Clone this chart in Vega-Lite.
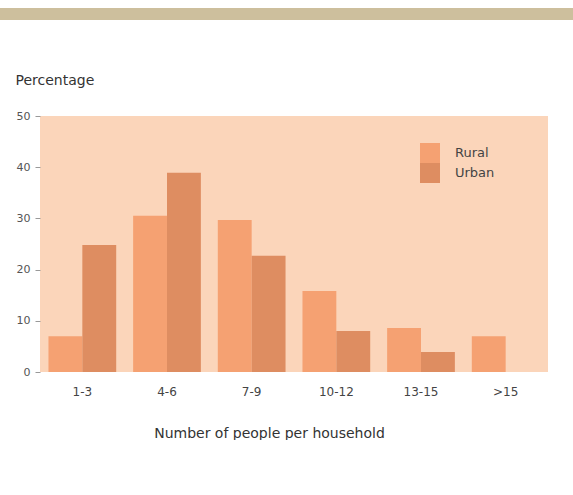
{
  "$schema": "https://vega.github.io/schema/vega-lite/v6.json",
  "padding": {"left": 0, "top": 8, "right": -15, "bottom": 0},
  "background": "white",
  "spacing": 53,
  "center": true,
  "config": {
    "font": "DejaVu Sans",
    "view": {"stroke": null}
  },
  "vconcat": [
    {
      "width": 588,
      "height": 12,
      "view": {"fill": "#cdbf9d", "stroke": null},
      "data": {"values": [{"band": 1}]},
      "mark": {"type": "rect", "color": "#cdbf9d"},
      "encoding": {}
    },
    {
      "width": 508,
      "height": 256,
      "view": {"fill": "#fbd5ba", "stroke": null},
      "data": {
        "values": [
          {"size": "1-3", "area": "Rural", "pct": 7},
          {"size": "1-3", "area": "Urban", "pct": 24.8},
          {"size": "4-6", "area": "Rural", "pct": 30.5},
          {"size": "4-6", "area": "Urban", "pct": 38.9},
          {"size": "7-9", "area": "Rural", "pct": 29.7},
          {"size": "7-9", "area": "Urban", "pct": 22.7},
          {"size": "10-12", "area": "Rural", "pct": 15.8},
          {"size": "10-12", "area": "Urban", "pct": 8},
          {"size": "13-15", "area": "Rural", "pct": 8.6},
          {"size": "13-15", "area": "Urban", "pct": 3.9},
          {"size": ">15", "area": "Rural", "pct": 7},
          {"size": ">15", "area": "Urban", "pct": 0}
        ]
      },
      "mark": {"type": "bar"},
      "encoding": {
        "x": {
          "field": "size",
          "type": "nominal",
          "sort": ["1-3", "4-6", "7-9", "10-12", "13-15", ">15"],
          "scale": {"paddingInner": 0.2, "paddingOuter": 0.1},
          "axis": {
            "title": "Number of people per household",
            "labelAngle": 0,
            "domain": false,
            "ticks": false,
            "labelPadding": 14,
            "labelFontSize": 12,
            "labelColor": "#444",
            "titleFontSize": 14,
            "titleFontWeight": "normal",
            "titleColor": "#333",
            "titleX": 229,
            "titleY": 61,
            "titleBaseline": "middle"
          }
        },
        "xOffset": {
          "field": "area",
          "type": "nominal",
          "sort": ["Rural", "Urban"],
          "scale": {"paddingInner": 0, "paddingOuter": 0}
        },
        "y": {
          "field": "pct",
          "type": "quantitative",
          "scale": {"domain": [0, 50], "nice": false},
          "axis": {
            "title": "Percentage",
            "values": [0, 10, 20, 30, 40, 50],
            "grid": false,
            "domain": false,
            "tickSize": 5,
            "tickColor": "#999",
            "labelPadding": 5,
            "labelFontSize": 11,
            "labelColor": "#555",
            "minExtent": 40,
            "titleAngle": 0,
            "titleAlign": "left",
            "titleBaseline": "middle",
            "titleX": -25,
            "titleY": -36,
            "titleFontSize": 14,
            "titleFontWeight": "normal",
            "titleColor": "#333"
          }
        },
        "color": {
          "field": "area",
          "type": "nominal",
          "scale": {"domain": ["Rural", "Urban"], "range": ["#f5a172", "#de8d61"]},
          "legend": {
            "title": null,
            "orient": "none",
            "legendX": 420,
            "legendY": 135,
            "padding": 0,
            "symbolType": "square",
            "symbolSize": 400,
            "symbolStrokeWidth": 0,
            "symbolOpacity": 1,
            "rowPadding": 0,
            "labelOffset": 15,
            "labelFontSize": 13,
            "labelColor": "#444"
          }
        }
      }
    }
  ]
}
